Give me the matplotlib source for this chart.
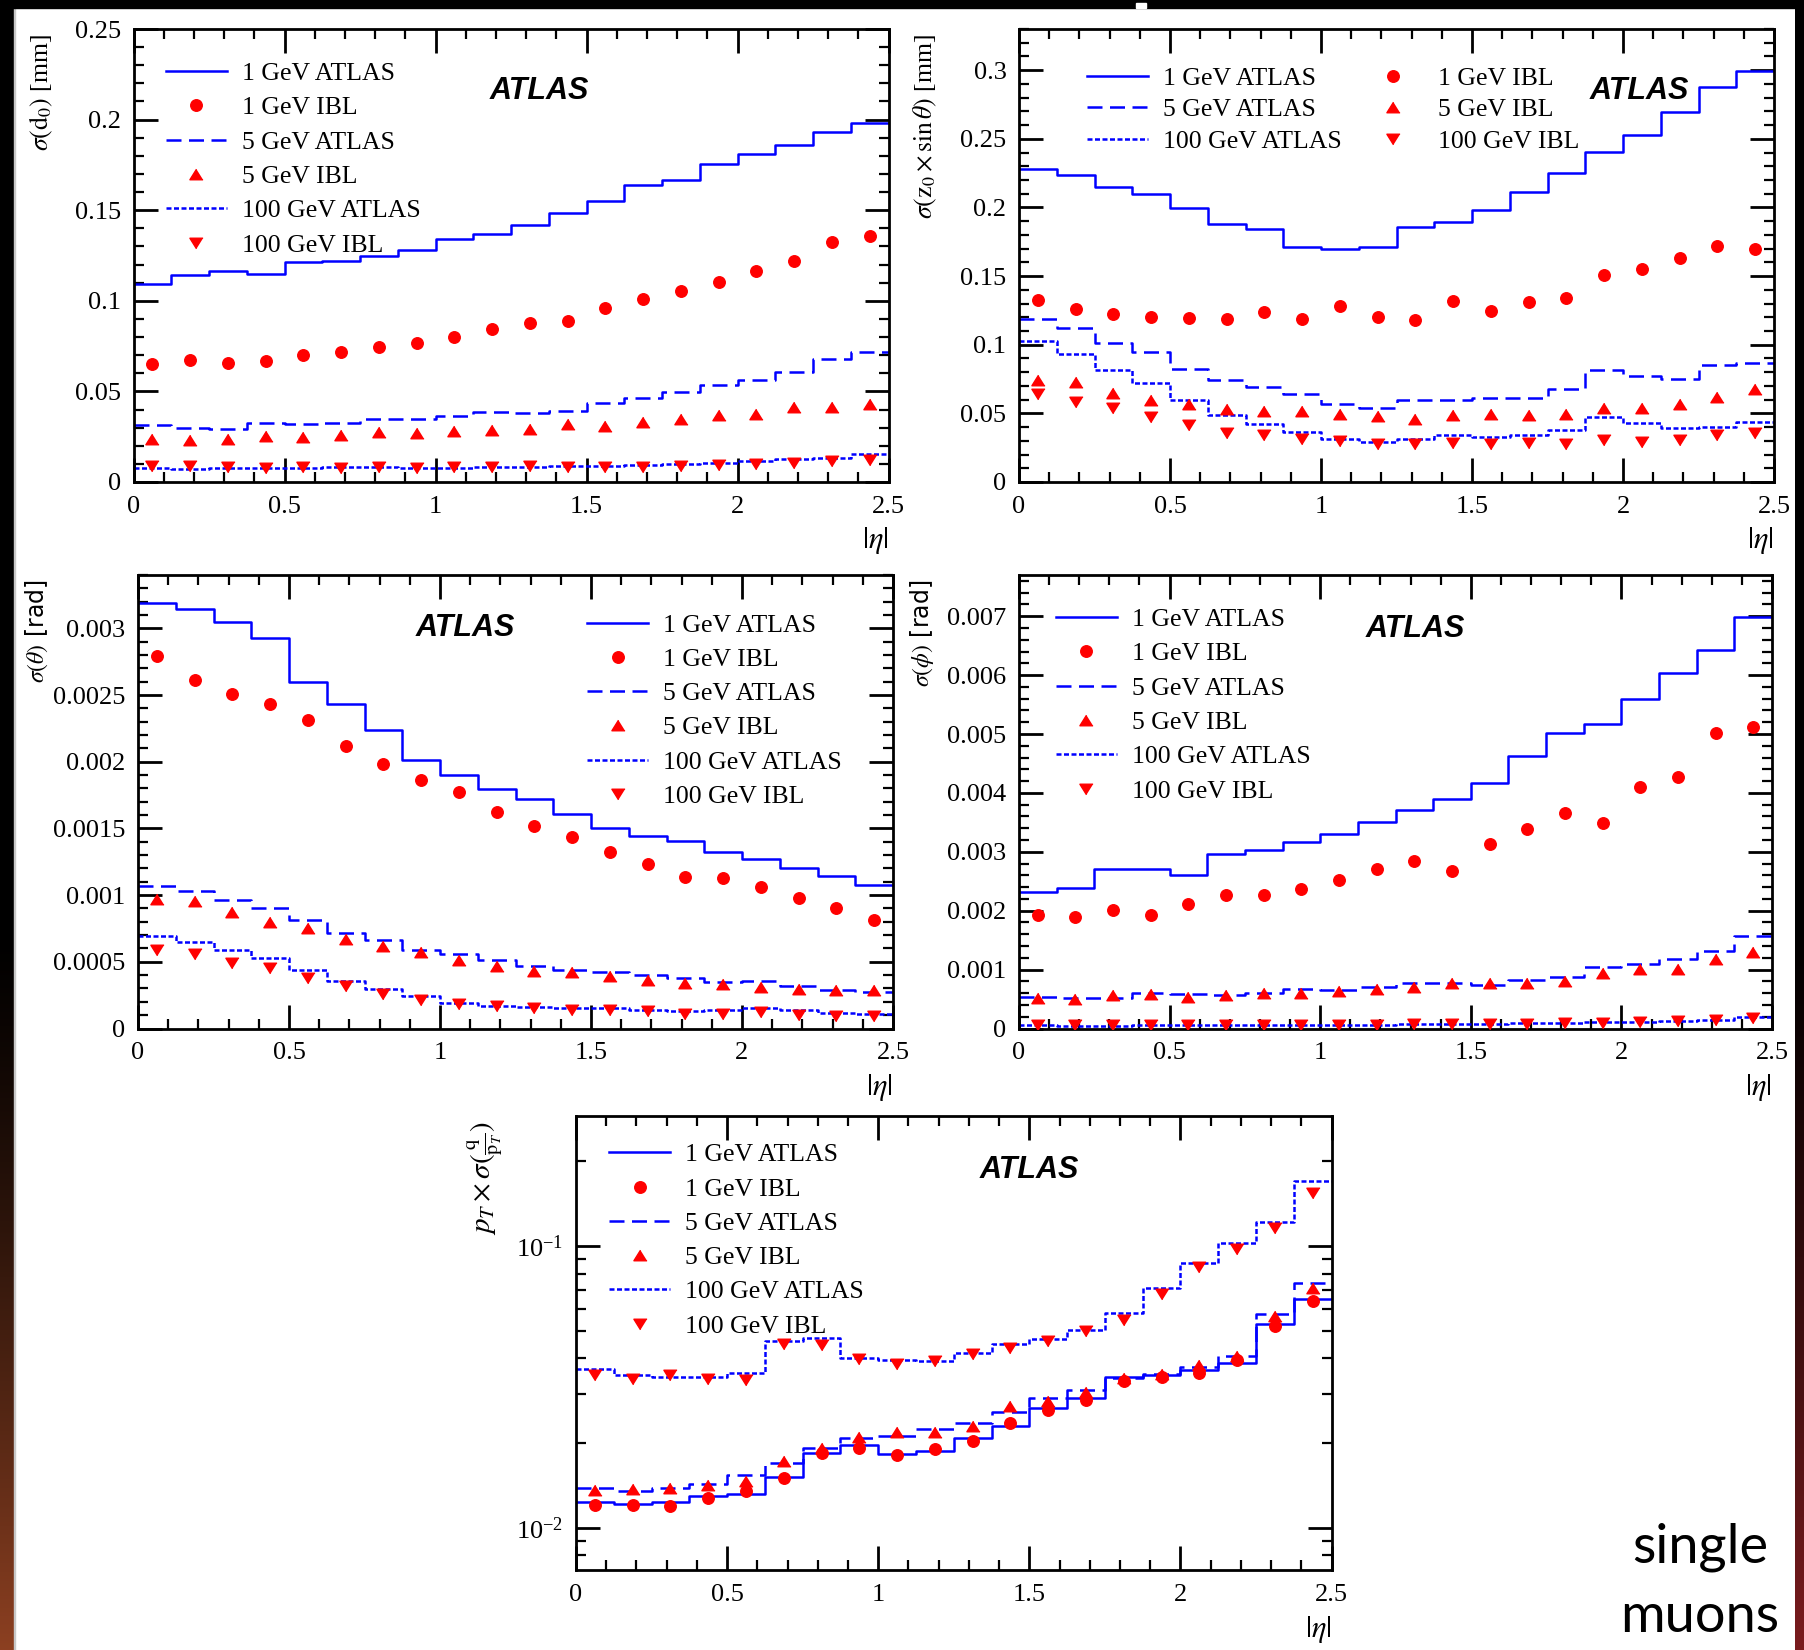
import numpy as np
import matplotlib
matplotlib.use('Agg')
import matplotlib.pyplot as plt
from matplotlib.patches import Rectangle
from matplotlib.ticker import MultipleLocator, FuncFormatter, LogLocator, NullFormatter

# |eta| binning (20 bins)
eta_edges = np.array([0, 0.125, 0.25, 0.375, 0.5, 0.625, 0.75, 0.875, 1.0, 1.125, 1.25,
                      1.375, 1.5, 1.625, 1.75, 1.875, 2.0, 2.125, 2.25, 2.375, 2.5])
eta_centers = (eta_edges[:-1] + eta_edges[1:]) / 2

labels = ['1 GeV ATLAS', '1 GeV IBL', '5 GeV ATLAS', '5 GeV IBL', '100 GeV ATLAS', '100 GeV IBL']

# sigma(d0) [mm]
d0_atlas_1 = [0.109, 0.114, 0.1165, 0.115, 0.1215, 0.122, 0.1245, 0.128, 0.134, 0.137,
              0.142, 0.1485, 0.155, 0.164, 0.1665, 0.1755, 0.181, 0.186, 0.193, 0.198]
d0_ibl_1 = [0.065, 0.0675, 0.0655, 0.067, 0.070, 0.0715, 0.0745, 0.0765, 0.080, 0.0845,
            0.0875, 0.089, 0.096, 0.101, 0.1055, 0.1105, 0.1165, 0.122, 0.1325, 0.136]
d0_atlas_5 = [0.0315, 0.030, 0.029, 0.0325, 0.032, 0.0325, 0.0345, 0.0345, 0.0365, 0.0385,
              0.038, 0.039, 0.0435, 0.0465, 0.0495, 0.0535, 0.0565, 0.0605, 0.068, 0.072]
d0_ibl_5 = [0.024, 0.023, 0.024, 0.0255, 0.025, 0.026, 0.0275, 0.027, 0.028, 0.0285,
            0.029, 0.032, 0.031, 0.033, 0.035, 0.037, 0.0375, 0.0415, 0.0415, 0.043]
d0_atlas_100 = [0.0078, 0.0073, 0.0076, 0.0078, 0.008, 0.0082, 0.0082, 0.008, 0.008, 0.0082,
                0.0082, 0.0086, 0.0086, 0.0092, 0.0098, 0.0106, 0.0118, 0.0125, 0.0131, 0.0157]
d0_ibl_100 = [0.0086, 0.0086, 0.0082, 0.0078, 0.0082, 0.008, 0.0082, 0.008, 0.0084, 0.0084,
              0.0086, 0.0082, 0.0082, 0.0082, 0.0086, 0.0094, 0.0102, 0.0106, 0.0114, 0.0122]

# sigma(z0 x sin theta) [mm]
z0_atlas_1 = [0.228, 0.224, 0.215, 0.2095, 0.1995, 0.188, 0.1845, 0.1715, 0.1695, 0.1715,
              0.1855, 0.1895, 0.198, 0.2115, 0.225, 0.2405, 0.253, 0.2695, 0.288, 0.2995]
z0_ibl_1 = [0.1325, 0.126, 0.1225, 0.120, 0.1195, 0.119, 0.124, 0.119, 0.1285, 0.120,
            0.118, 0.132, 0.1245, 0.131, 0.134, 0.1505, 0.1555, 0.1635, 0.172, 0.170]
z0_atlas_5 = [0.1185, 0.112, 0.1015, 0.0945, 0.0825, 0.074, 0.0695, 0.064, 0.0565, 0.054,
              0.0595, 0.060, 0.061, 0.0615, 0.0675, 0.0815, 0.0775, 0.075, 0.085, 0.0865]
z0_ibl_5 = [0.074, 0.0725, 0.065, 0.060, 0.0565, 0.0535, 0.0515, 0.052, 0.0495, 0.048,
            0.046, 0.0485, 0.0495, 0.0485, 0.0495, 0.054, 0.054, 0.057, 0.062, 0.068]
z0_atlas_100 = [0.103, 0.093, 0.0815, 0.072, 0.060, 0.049, 0.0425, 0.0365, 0.031, 0.0295,
                0.0315, 0.0345, 0.033, 0.034, 0.038, 0.047, 0.043, 0.0395, 0.040, 0.044]
z0_ibl_100 = [0.064, 0.0585, 0.054, 0.0475, 0.0415, 0.0355, 0.0345, 0.031, 0.030, 0.028,
              0.028, 0.0285, 0.028, 0.0285, 0.028, 0.0305, 0.029, 0.0305, 0.034, 0.036]

# sigma(theta) [rad]
th_atlas_1 = [0.00319, 0.003145, 0.003045, 0.00293, 0.0026, 0.002435, 0.002235, 0.00201, 0.0019, 0.001795,
              0.00172, 0.001605, 0.0015, 0.001445, 0.001405, 0.00132, 0.00127, 0.0012, 0.00114, 0.001075]
th_ibl_1 = [0.00279, 0.002615, 0.00251, 0.00243, 0.002315, 0.00212, 0.001985, 0.00186, 0.00177, 0.00162,
            0.00152, 0.001435, 0.001325, 0.00123, 0.001135, 0.001125, 0.00106, 0.00098, 0.0009, 0.00081]
th_atlas_5 = [0.00107, 0.00103, 0.000965, 0.000905, 0.00081, 0.000715, 0.00066, 0.000585, 0.00056, 0.00051,
              0.000465, 0.000435, 0.00042, 0.0004, 0.000375, 0.00035, 0.000355, 0.00032, 0.000285, 0.000275]
th_ibl_5 = [0.00097, 0.000955, 0.000875, 0.000795, 0.000755, 0.00067, 0.00062, 0.00057, 0.00051, 0.000465,
            0.00043, 0.00042, 0.000395, 0.000365, 0.00034, 0.000335, 0.00031, 0.000295, 0.000285, 0.000285]
th_atlas_100 = [0.00069, 0.00065, 0.000585, 0.000525, 0.000435, 0.000355, 0.000295, 0.00024, 0.00019, 0.000168,
                0.000162, 0.000155, 0.00015, 0.000135, 0.000128, 0.000135, 0.000155, 0.000135, 0.000115, 0.00011]
th_ibl_100 = [0.000585, 0.000555, 0.00049, 0.00045, 0.00038, 0.000315, 0.00026, 0.00021, 0.000185, 0.000168,
              0.000155, 0.000135, 0.000135, 0.000128, 0.000112, 0.00011, 0.000122, 0.000102, 0.000096, 0.000096]

# sigma(phi) [rad]
ph_atlas_1 = [0.00231, 0.00238, 0.002715, 0.002715, 0.002605, 0.002965, 0.00303, 0.003175, 0.003295, 0.00351,
              0.00371, 0.0039, 0.00417, 0.00463, 0.00502, 0.00517, 0.005595, 0.006035, 0.00643, 0.00699]
ph_ibl_1 = [0.001935, 0.00189, 0.00201, 0.00192, 0.002115, 0.00226, 0.00226, 0.00237, 0.00252, 0.0027,
            0.00284, 0.00268, 0.00314, 0.003395, 0.00366, 0.003485, 0.0041, 0.004265, 0.005025, 0.005115]
ph_atlas_5 = [0.000535, 0.00051, 0.00051, 0.0006, 0.00058, 0.00057, 0.00061, 0.000675, 0.000655, 0.0007,
              0.000765, 0.000775, 0.000735, 0.000825, 0.000875, 0.00104, 0.0011, 0.001175, 0.00131, 0.001575]
ph_ibl_5 = [0.00052, 0.000505, 0.000565, 0.00058, 0.000535, 0.00057, 0.000595, 0.00061, 0.00063, 0.000675,
            0.000705, 0.000775, 0.000775, 0.000765, 0.00081, 0.000935, 0.001005, 0.001005, 0.001175, 0.0013]
ph_atlas_100 = [0.000055, 0.000049, 0.000049, 0.000055, 0.000055, 0.00006, 0.00006, 0.000067, 0.000067, 0.000067,
                0.000073, 0.000079, 0.000079, 0.000085, 0.000091, 0.000103, 0.000115, 0.000127, 0.000145, 0.000194]
ph_ibl_100 = [0.000055, 0.000055, 0.000058, 0.000058, 0.00006, 0.000062, 0.000064, 0.000065, 0.000066, 0.000066,
              0.000068, 0.00007, 0.00007, 0.00008, 0.00009, 0.00009, 0.000105, 0.00012, 0.00014, 0.00017]

# pT x sigma(q/pT)
qp_atlas_1 = [0.01235, 0.0122, 0.0124, 0.01295, 0.0132, 0.0152, 0.0184, 0.01975, 0.01825, 0.0188,
              0.0208, 0.0231, 0.0267, 0.029, 0.0343, 0.035, 0.03635, 0.03855, 0.0532, 0.065]
qp_ibl_1 = [0.01203, 0.0121, 0.012, 0.01275, 0.0135, 0.0151, 0.0184, 0.0193, 0.0181, 0.0191,
            0.0204, 0.0236, 0.0263, 0.0285, 0.0333, 0.0343, 0.0356, 0.0394, 0.052, 0.064]
qp_atlas_5 = [0.0139, 0.0135, 0.0139, 0.01435, 0.01545, 0.01705, 0.0193, 0.0209, 0.02125, 0.0224,
              0.0236, 0.0259, 0.029, 0.0308, 0.0341, 0.0353, 0.0374, 0.0409, 0.0573, 0.0739]
qp_ibl_5 = [0.01368, 0.01373, 0.01384, 0.01422, 0.01464, 0.0173, 0.0192, 0.0211, 0.02195, 0.02195,
            0.0231, 0.0271, 0.0282, 0.0305, 0.034, 0.0353, 0.0378, 0.0409, 0.0565, 0.0714]
qp_atlas_100 = [0.0366, 0.0348, 0.0343, 0.0345, 0.0355, 0.0462, 0.0471, 0.04, 0.0395, 0.0391,
                0.0418, 0.045, 0.0467, 0.0505, 0.0578, 0.071, 0.0869, 0.1024, 0.1217, 0.171]
qp_ibl_100 = [0.0348, 0.0338, 0.0348, 0.0338, 0.0336, 0.045, 0.0446, 0.0397, 0.0382, 0.0391,
              0.0415, 0.0437, 0.0462, 0.0499, 0.0548, 0.0677, 0.0846, 0.098, 0.1158, 0.1552]


plt.rcParams['font.family'] = ['Liberation Serif', 'DejaVu Serif']
plt.rcParams['mathtext.fontset'] = 'stix'

W, H = 1804, 1650
fig = plt.figure(figsize=(W / 100, H / 100), dpi=100)
fig.patch.set_facecolor('white')

BLUE = '#0000ff'
RED = '#ff0000'
UP = [(0, 0.8), (-1, -0.8), (1, -0.8)]
DOWN = [(0, -0.8), (-1, 0.8), (1, 0.8)]


def px_axes(left, bottom, w, h):
    # pixel box (bottom measured from the top of the picture) -> figure fraction
    return fig.add_axes([left / W, 1 - bottom / H, w / W, h / H])


def draw_panel(ax, a1, i1, a5, i5, a100, i100):
    def st(v):
        return np.append(v, v[-1])
    h_a1, = ax.step(eta_edges, st(a1), where='post', color=BLUE, lw=1.8)
    h_a5, = ax.step(eta_edges, st(a5), where='post', color=BLUE, lw=1.8, dashes=(6, 3))
    h_a100, = ax.step(eta_edges, st(a100), where='post', color=BLUE, lw=1.8, dashes=(2.0, 1.0))
    h_i1, = ax.plot(eta_centers, i1, 'o', color=RED, ms=8.3, ls='none', zorder=5)
    h_i5, = ax.plot(eta_centers, i5, marker=UP, color=RED, ms=9.5, ls='none', zorder=5)
    h_i100, = ax.plot(eta_centers, i100, marker=DOWN, color=RED, ms=9.5, ls='none', zorder=5)
    return [h_a1, h_i1, h_a5, h_i5, h_a100, h_i100]


def style_axes(ax, ylabel, ylab_x, log=False, ylab_size=18.5, ylab_family=None):
    ax.set_xlim(0, 2.5)
    ax.xaxis.set_major_locator(MultipleLocator(0.5))
    ax.xaxis.set_minor_locator(MultipleLocator(0.1))
    fmt = FuncFormatter(lambda v, p: '%g' % round(v, 8))
    ax.xaxis.set_major_formatter(fmt)
    if not log:
        ax.yaxis.set_major_formatter(fmt)
    ax.tick_params(which='both', direction='in', top=True, right=True, labelsize=19)
    ax.tick_params(which='major', length=17, width=2)
    ax.tick_params(which='minor', length=7, width=1.6)
    ax.tick_params(axis='x', pad=10)
    ax.tick_params(axis='y', pad=9)
    for s in ax.spines.values():
        s.set_linewidth(2)
    kw = {}
    if ylab_family:
        kw['fontfamily'] = ylab_family
    ax.set_ylabel(ylabel, loc='top', fontsize=ylab_size, **kw)
    ax.yaxis.set_label_coords(ylab_x, 0.99)
    ax.set_xlabel(r'$|\eta|$', loc='right', fontsize=22)
    ax.xaxis.set_label_coords(1.0, -0.13)
    ax.xaxis.label.set_verticalalignment('center')


def atlas(ax, x, y):
    ax.text(x, y, 'ATLAS', transform=ax.transAxes, ha='center', va='center',
            fontfamily='Liberation Sans', fontweight='bold', fontstyle='italic', fontsize=22)


leg_kw = dict(loc='upper left', frameon=False, borderpad=0, borderaxespad=0,
              handlelength=2.37, handletextpad=0.58, labelspacing=0.44,
              fontsize=18.5, numpoints=1)

# ---- panel 1: d0
ax1 = px_axes(133.5, 482, 755, 453)
hs = draw_panel(ax1, d0_atlas_1, d0_ibl_1, d0_atlas_5, d0_ibl_5, d0_atlas_100, d0_ibl_100)
ax1.set_ylim(0, 0.25)
ax1.yaxis.set_major_locator(MultipleLocator(0.05))
ax1.yaxis.set_minor_locator(MultipleLocator(0.01))
style_axes(ax1, r'$\sigma(\mathrm{d}_{0})$ [mm]', -0.104)
ax1.legend(hs, labels, bbox_to_anchor=(0.043, 0.927), **leg_kw)
atlas(ax1, 0.538, 0.863)

# ---- panel 2: z0 sin(theta)
ax2 = px_axes(1019, 482, 755, 453)
hs = draw_panel(ax2, z0_atlas_1, z0_ibl_1, z0_atlas_5, z0_ibl_5, z0_atlas_100, z0_ibl_100)
ax2.set_ylim(0, 0.33)
ax2.yaxis.set_major_locator(MultipleLocator(0.05))
ax2.yaxis.set_minor_locator(MultipleLocator(0.01))
style_axes(ax2, r'$\sigma(\mathrm{z}_0 \times \sin\theta)$ [mm]', -0.106)
order = [0, 2, 4, 1, 3, 5]
kw2 = dict(leg_kw)
kw2['labelspacing'] = 0.33
ax2.legend([hs[i] for i in order], [labels[i] for i in order], ncol=2,
           columnspacing=0.8, bbox_to_anchor=(0.09, 0.917), **kw2)
atlas(ax2, 0.821, 0.863)

# ---- panel 3: theta
ax3 = px_axes(138, 1028.5, 755, 453.5)
hs = draw_panel(ax3, th_atlas_1, th_ibl_1, th_atlas_5, th_ibl_5, th_atlas_100, th_ibl_100)
ax3.set_ylim(0, 0.0034)
ax3.yaxis.set_major_locator(MultipleLocator(0.0005))
ax3.yaxis.set_minor_locator(MultipleLocator(0.0001))
style_axes(ax3, r'$\sigma(\theta)$ [rad]', -0.116, ylab_family='DejaVu Sans', ylab_size=17)
ax3.legend(hs, labels, bbox_to_anchor=(0.595, 0.915), **leg_kw)
atlas(ax3, 0.433, 0.884)

# ---- panel 4: phi
ax4 = px_axes(1019, 1028.5, 753, 453.5)
hs = draw_panel(ax4, ph_atlas_1, ph_ibl_1, ph_atlas_5, ph_ibl_5, ph_atlas_100, ph_ibl_100)
ax4.set_ylim(0, 0.0077)
ax4.yaxis.set_major_locator(MultipleLocator(0.001))
ax4.yaxis.set_minor_locator(MultipleLocator(0.0002))
style_axes(ax4, r'$\sigma(\phi)$ [rad]', -0.110, ylab_family='DejaVu Sans', ylab_size=17)
ax4.legend(hs, labels, bbox_to_anchor=(0.049, 0.927), **leg_kw)
atlas(ax4, 0.526, 0.882)

# ---- panel 5: q/pT (log)
ax5 = px_axes(576, 1570, 755.5, 454)
hs = draw_panel(ax5, qp_atlas_1, qp_ibl_1, qp_atlas_5, qp_ibl_5, qp_atlas_100, qp_ibl_100)
ax5.set_yscale('log')
ax5.set_ylim(0.0071, 0.29)
ax5.yaxis.set_major_locator(LogLocator(base=10))
ax5.yaxis.set_minor_locator(LogLocator(base=10, subs=np.arange(2, 10)))
ax5.yaxis.set_minor_formatter(NullFormatter())
style_axes(ax5, r'$p_T \times \sigma(\frac{\mathrm{q}}{\mathrm{p}_T})$', -0.094, log=True, ylab_size=21)
ax5.legend(hs, labels, bbox_to_anchor=(0.044, 0.94), **leg_kw)
atlas(ax5, 0.60, 0.881)

fig.text(1700 / W, 1 - 1547 / H, 'single', ha='center', va='center',
         fontfamily='Lato', fontsize=39)
fig.text(1700 / W, 1 - 1616 / H, 'muons', ha='center', va='center',
         fontfamily='Lato', fontsize=39)

# slide frame: black top band, gradient side strips
fig.patches.append(Rectangle((0, 1 - 8 / H), 1, 8 / H, transform=fig.transFigure,
                             color='black', zorder=10))
fig.patches.append(Rectangle((1136 / W, 1 - 8 / H), 10 / W, 5 / H, transform=fig.transFigure,
                             color='white', zorder=11))

t = np.linspace(0, 1, H)
ramp = np.clip((t - 0.56) / 0.44, 0, 1)
left_rgb = np.stack([0.55 * ramp ** 1.3, 0.25 * ramp ** 1.3, 0.13 * ramp ** 1.3], axis=-1)[:, None, :]
right_rgb = np.stack([0.48 * ramp ** 1.2, 0.11 * ramp ** 1.2, 0.12 * ramp ** 1.2], axis=-1)[:, None, :]
axl = fig.add_axes([0, 0, 14 / W, 1])
axl.imshow(left_rgb, aspect='auto', extent=[0, 1, 0, 1])
axl.axis('off')
fig.patches.append(Rectangle((14 / W, 0), 1.2 / W, 1, transform=fig.transFigure,
                             color='#c8c8c8', zorder=1))
axr = fig.add_axes([1795 / W, 0, 9 / W, 1])
axr.imshow(right_rgb, aspect='auto', extent=[0, 1, 0, 1])
axr.axis('off')

fig.savefig('out.png', dpi=100)
